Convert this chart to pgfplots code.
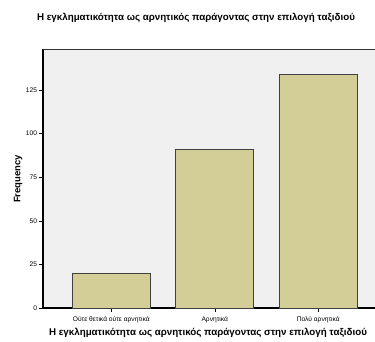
\documentclass[border=0pt]{standalone}
\usepackage{pgfplots}
\pgfplotsset{compat=1.18}
\usepackage{fontspec}
\setmainfont{Liberation Sans}
\definecolor{barfill}{RGB}{211,206,152}
\definecolor{plotbg}{RGB}{240,240,240}
\begin{document}
\begin{tikzpicture}[x=1bp,y=1bp]
\useasboundingbox (0,0) rectangle (375,342);
\fill[white] (0,0) rectangle (375,342);
\begin{axis}[
  at={(43bp,34bp)}, anchor=south west,
  scale only axis, width=340bp, height=259bp,
  xmin=-0.66, xmax=2.625, ymin=0, ymax=148.5,
  axis background/.style={fill=plotbg},
  axis x line*=bottom, axis y line*=left,
  axis line style={line width=1.3pt, -},
  xtick={0,1,2},
  xticklabels={Ούτε θετικά ούτε αρνητικά, Αρνητικά, Πολύ αρνητικά},
  ytick={0,25,50,75,100,125},
  tick align=outside, major tick length=3.5bp,
  tick style={black, line width=0.5pt},
  ticklabel style={font=\fontsize{6.7}{7}\selectfont},
  /pgf/number format/assume math mode=true,
  xticklabel style={yshift=-1bp},
  yticklabel style={xshift=1bp},
  clip=false,
]
\addplot[ybar, bar width=0.754, fill=barfill, draw=black!75, line width=0.9pt]
  coordinates {(0,20) (1,91) (2,134)};
\draw[black!80, line width=0.5pt] (axis cs:-0.66,148.5) -- (axis cs:2.625,148.5);
\end{axis}
\node[font=\fontsize{9.8}{11}\selectfont\bfseries] at (196,324) {Η εγκληματικότητα ως αρνητικός παράγοντας στην επιλογή ταξιδιού};
\node[font=\fontsize{9.8}{11}\selectfont\bfseries] at (208,9) {Η εγκληματικότητα ως αρνητικός παράγοντας στην επιλογή ταξιδιού};
\node[font=\fontsize{9.5}{11}\selectfont\bfseries, rotate=90] at (18,163) {Frequency};
\end{tikzpicture}
\end{document}
